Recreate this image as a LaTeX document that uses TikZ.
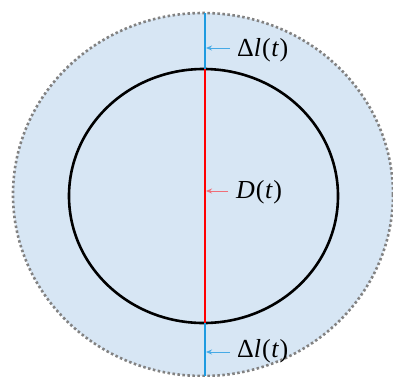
\documentclass[tikz,border=0pt]{standalone}
\usepackage{fontspec}
\setmainfont{Liberation Serif}
\usetikzlibrary{arrows.meta}
\definecolor{ringfill}{RGB}{215,230,244}
\definecolor{lineblue}{RGB}{30,155,224}
\definecolor{arrowblue}{RGB}{70,170,230}
\definecolor{arrowred}{RGB}{240,110,120}
\definecolor{dotgray}{RGB}{130,130,130}
\tikzset{
  lbl/.style={inner sep=0pt, anchor=west, font=\fontsize{26}{26}\selectfont},
  outerring/.style={fill=ringfill, draw=dotgray, line width=2.6pt, dash pattern=on 2.5pt off 2.5pt},
  innerring/.style={draw=black, line width=2.6pt},
  blueseg/.style={draw=lineblue, line width=1.8pt},
  redseg/.style={draw=red, line width=1.8pt},
  bluearrow/.style={draw=arrowblue, line width=1pt, -{Stealth[length=6pt,width=5pt]}},
  redarrow/.style={draw=arrowred, line width=1pt, -{Stealth[length=6pt,width=5pt]}}
}
\begin{document}
\begin{tikzpicture}[x=1pt,y=-1pt]
\useasboundingbox (0,0) rectangle (393,376);
\clip (0,0) rectangle (393,376);
\path[outerring] (203,194.5) ellipse [x radius=190, y radius=181.5];
\draw[innerring] (203.5,196) ellipse [x radius=134.5, y radius=127];
\coordinate (top) at (205,13);
\coordinate (itop) at (205,69);
\coordinate (ibot) at (205,323);
\coordinate (bot) at (205,376);
\draw[blueseg] (top) -- (itop);
\draw[redseg] (itop) -- (ibot);
\draw[blueseg] (ibot) -- (bot);
\node[lbl] (l1) at (237,50) {Δ\textit{l}\kern1pt(\kern0.5pt\textit{t}\kern0.5pt)};
\node[lbl] (d) at (236,192) {\textit{D}\kern1pt(\kern0.5pt\textit{t}\kern0.5pt)};
\node[lbl] (l2) at (237,351) {Δ\textit{l}\kern1pt(\kern0.5pt\textit{t}\kern0.5pt)};
\coordinate (a1) at (206,48);
\coordinate (a2) at (206,191);
\coordinate (a3) at (206,352);
\coordinate (s1) at ([xshift=-7pt]l1.west);
\coordinate (s2) at ([xshift=-8pt]d.west);
\coordinate (s3) at ([xshift=-7pt]l2.west);
\draw[bluearrow] (s1 |- a1) -- (a1);
\draw[redarrow] (s2 |- a2) -- (a2);
\draw[bluearrow] (s3 |- a3) -- (a3);
\end{tikzpicture}
\end{document}
